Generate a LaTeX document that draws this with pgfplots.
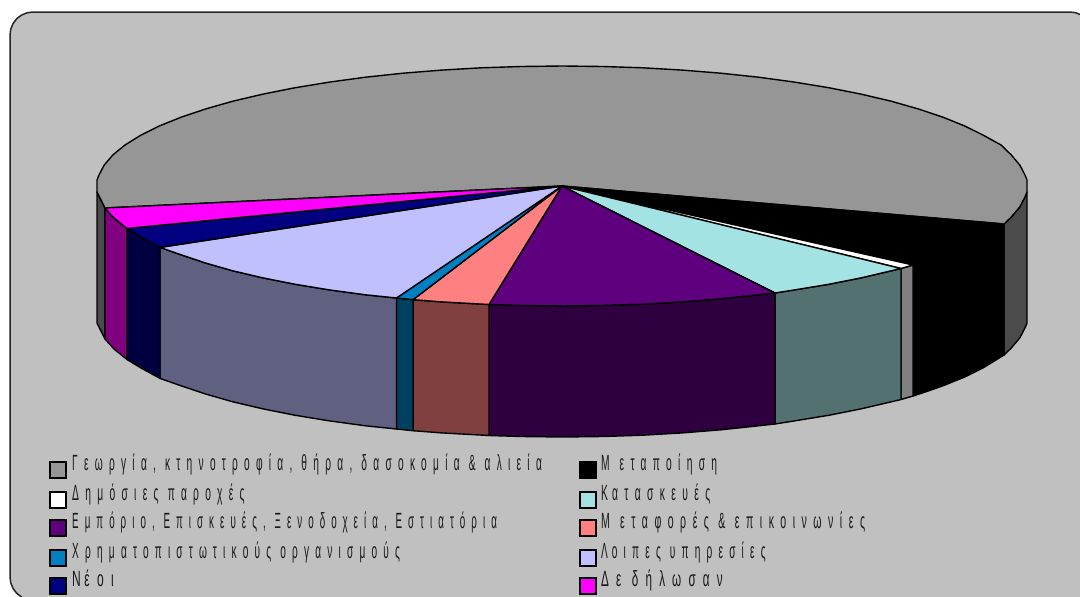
\documentclass[border=0pt]{standalone}
\usepackage{fontspec}
\usepackage{graphicx}
\usepackage{pgfplots}
\pgfplotsset{compat=1.18}
\setmainfont{Liberation Sans}
\newfontfamily\legfont[FakeStretch=0.47,LetterSpace=29]{Liberation Sans}

\definecolor{bg}{HTML}{C0C0C0}
\definecolor{cgray}{HTML}{969696}
\definecolor{cgrayS}{HTML}{4B4B4B}
\definecolor{cwhiteS}{HTML}{808080}
\definecolor{ccyan}{HTML}{A4E3E3}
\definecolor{ccyanS}{HTML}{527170}
\definecolor{cpurp}{HTML}{5F007F}
\definecolor{cpurpS}{HTML}{2F003F}
\definecolor{csalm}{HTML}{FF8080}
\definecolor{csalmS}{HTML}{804040}
\definecolor{cblue}{HTML}{0080C0}
\definecolor{cblueS}{HTML}{004060}
\definecolor{clav}{HTML}{C0C0FF}
\definecolor{clavS}{HTML}{606080}
\definecolor{cnavy}{HTML}{000080}
\definecolor{cnavyS}{HTML}{000040}
\definecolor{cmag}{HTML}{FF00FF}
\definecolor{cmagS}{HTML}{800080}

% position, x squeeze, text
\newcommand{\leg}[3]{\node[anchor=base west,inner sep=0pt,text=black!90] at (axis cs:#1) {\scalebox{#2}[1]{\legfont\fontsize{22}{22}\selectfont #3}};}

\begin{document}
\begin{tikzpicture}
\useasboundingbox (0,0) rectangle (1080pt,597pt);
\begin{axis}[
    scale only axis,
    width=1080pt, height=597pt,
    xmin=0, xmax=1080, ymin=0, ymax=597,
    y dir=reverse,
    hide axis,
    poly/.style={draw=black, line width=1.4pt, line join=round},
    swatch/.style={draw=black, line width=1.8pt},
]
% frame
\addplot[fill=bg, draw=black!85, line width=1.5pt] coordinates {
    (10,35) (10.8,29) (13.1,23.5) (16.7,18.7) (21.5,15.1) (27,12.8) (33,12)
    (1070,12) (1076,12.8) (1081.5,15.1) (1090,20) (1090,610) (25,610) (21.5,597) (16.7,593.3)
    (13.1,588.5) (10.8,583) (10,577)
} -- cycle;

% side walls
\addplot[poly, fill=cgrayS] coordinates {(97,192) (105,208) (105,339) (97,323)} -- cycle;
\addplot[poly, fill=cgrayS] coordinates {(1027,192) (1025.2,196.5) (1019.9,206.8) (1011.2,217.1) (1004,224) (1004,355) (1011.2,348.1) (1019.9,337.8) (1025.2,327.5) (1027,323)} -- cycle;
\addplot[poly, fill=black] coordinates {(1004,224) (983.4,236.7) (964.7,246) (942.9,254.8) (927,260.4) (913,265) (913,396) (927,391.4) (942.9,385.8) (964.7,377) (983.4,367.7) (1004,355)} -- cycle;
\addplot[poly, fill=cwhiteS] coordinates {(913,265) (901,268.5) (901,399.5) (913,396)} -- cycle;
\addplot[poly, fill=ccyanS] coordinates {(901,268.5) (890.8,270.9) (860.9,277.9) (828.7,284.3) (794.5,289.9) (775,293) (775,424) (794.5,420.9) (828.7,415.3) (860.9,408.9) (890.8,401.9) (901,399.5)} -- cycle;
\addplot[poly, fill=cpurpS] coordinates {(775,293) (758.5,294.8) (721,298.8) (682.3,301.9) (642.7,304.2) (602.5,305.5) (562,306) (521.5,305.5) (489,304.5) (489,435.5) (521.5,436.5) (562,437) (602.5,436.5) (642.7,435.2) (682.3,432.9) (721,429.8) (758.5,425.8) (775,424)} -- cycle;
\addplot[poly, fill=csalmS] coordinates {(489,304.5) (441.7,301.9) (413,299.7) (413,430.7) (441.7,432.9) (489,435.5)} -- cycle;
\addplot[poly, fill=cblueS] coordinates {(413,299.7) (396.5,298) (396.5,429) (413,430.7)} -- cycle;
\addplot[poly, fill=clavS] coordinates {(396.5,298) (365.5,294.8) (329.5,289.9) (295.3,284.3) (263.1,277.9) (233.2,270.9) (205.8,263.1) (181.1,254.8) (160,247.4) (160,378.4) (181.1,385.8) (205.8,394.1) (233.2,401.9) (263.1,408.9) (295.3,415.3) (329.5,420.9) (365.5,425.8) (396.5,429)} -- cycle;
\addplot[poly, fill=cnavyS] coordinates {(160,247.4) (141,237) (127,228.5) (127,359.5) (141,368) (160,378.4)} -- cycle;
\addplot[poly, fill=cmagS] coordinates {(127,228.5) (114,218) (105,208) (105,339) (114,349) (127,359.5)} -- cycle;

% top faces
\addplot[poly, fill=cgray] coordinates {
    (562,186) (105,208) (97,192) (97,180) (98.8,175.5) (104.1,165.2) (112.9,154.9) (125,145)
    (140.6,135.3) (159.3,126) (181.1,117.2) (205.8,108.9) (233.2,101.1) (263.1,94.1)
    (295.3,87.7) (329.5,82.1) (365.5,77.2) (403,73.2) (441.7,70.1) (481.3,67.8) (521.5,66.5)
    (562,66) (602.5,66.5) (642.7,67.8) (682.3,70.1) (721,73.2) (758.5,77.2) (794.5,82.1)
    (828.7,87.7) (860.9,94.1) (890.8,101.1) (918.2,108.9) (943,117.2) (964.7,126)
    (983.5,135.3) (1001,145) (1011.2,154.9) (1019.9,165.2) (1025.2,175.5)
    (1027,180) (1027,192) (1025.2,196.5) (1019.9,206.8) (1011.2,217.1) (1004,224)
} -- cycle;
\addplot[poly, fill=black] coordinates {(562,186) (1004,224) (983.4,236.7) (964.7,246) (942.9,254.8) (927,260.4) (913,265)} -- cycle;
\addplot[poly, fill=white] coordinates {(562,186) (913,265) (901,268.5)} -- cycle;
\addplot[poly, fill=ccyan] coordinates {(562,186) (901,268.5) (890.8,270.9) (860.9,277.9) (828.7,284.3) (794.5,289.9) (775,293)} -- cycle;
\addplot[poly, fill=cpurp] coordinates {(562,186) (775,293) (758.5,294.8) (721,298.8) (682.3,301.9) (642.7,304.2) (602.5,305.5) (562,306) (521.5,305.5) (489,304.5)} -- cycle;
\addplot[poly, fill=csalm] coordinates {(562,186) (489,304.5) (441.7,301.9) (413,299.7)} -- cycle;
\addplot[poly, fill=cblue] coordinates {(562,186) (413,299.7) (396.5,298)} -- cycle;
\addplot[poly, fill=clav] coordinates {(562,186) (396.5,298) (365.5,294.8) (329.5,289.9) (295.3,284.3) (263.1,277.9) (233.2,270.9) (205.8,263.1) (181.1,254.8) (160,247.4)} -- cycle;
\addplot[poly, fill=cnavy] coordinates {(562,186) (160,247.4) (141,237) (127,228.5)} -- cycle;
\addplot[poly, fill=cmag] coordinates {(562,186) (127,228.5) (114,218) (105,208)} -- cycle;

% legend swatches
\addplot[swatch, fill=cgray] coordinates {(50,462) (66,462) (66,478) (50,478)} -- cycle;
\addplot[swatch, fill=white] coordinates {(50,492) (66,492) (66,508) (50,508)} -- cycle;
\addplot[swatch, fill=cpurp] coordinates {(50,520) (66,520) (66,536) (50,536)} -- cycle;
\addplot[swatch, fill=cblue] coordinates {(50,550) (66,550) (66,566) (50,566)} -- cycle;
\addplot[swatch, fill=cnavy] coordinates {(50,578) (66,578) (66,594) (50,594)} -- cycle;
\addplot[swatch, fill=black] coordinates {(580,462) (596,462) (596,478) (580,478)} -- cycle;
\addplot[swatch, fill=ccyan] coordinates {(580,492) (596,492) (596,508) (580,508)} -- cycle;
\addplot[swatch, fill=csalm] coordinates {(580,520) (596,520) (596,536) (580,536)} -- cycle;
\addplot[swatch, fill=clav] coordinates {(580,550) (596,550) (596,566) (580,566)} -- cycle;
\addplot[swatch, fill=cmag] coordinates {(580,578) (596,578) (596,594) (580,594)} -- cycle;

% legend text
\leg{72,470}{0.983}{Γεωργία, κτηνοτροφία, θήρα, δασοκομία \& αλιεία}
\leg{72,500}{0.99}{Δημόσιες παροχές}
\leg{72,528}{0.947}{Εμπόριο, Επισκευές, Ξενοδοχεία, Εστιατόρια}
\leg{72,558}{0.976}{Χρηματοπιστωτικούς οργανισμούς}
\leg{72,586}{1.16}{Ν\kern3pt έοι}
\leg{601,470}{0.99}{Μ\kern10pt εταποίηση}
\leg{601,500}{1.0}{Κ\kern4pt ατασκευές}
\leg{601,528}{1.02}{Μ\kern10pt εταφορές \& επικοινωνίες}
\leg{601,558}{0.975}{Λ\kern4pt οιπες υπηρεσίες}
\leg{601,586}{1.13}{Δε δήλωσαν}
\end{axis}
\end{tikzpicture}
\end{document}
